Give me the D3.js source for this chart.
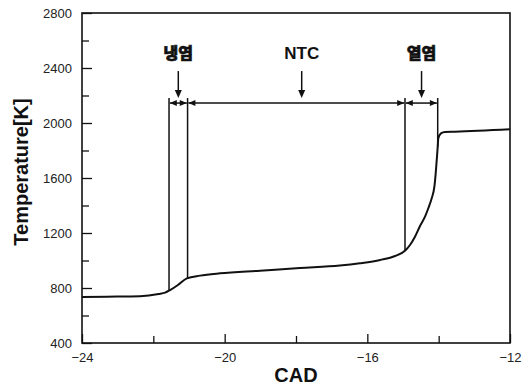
<!DOCTYPE html>
<html>
<head>
<meta charset="utf-8">
<script src="https://cdn.jsdelivr.net/npm/d3@7"></script>
<style>
  html, body { margin: 0; padding: 0; background: #fff; }
  svg { display: block; font-family: "Liberation Sans", Arial, "Noto Sans CJK KR", sans-serif; }
</style>
</head>
<body>
<svg id="chart" width="529" height="385"></svg>
<script>
// Crank-angle (CAD) vs. in-cylinder temperature
const cad  = [-24, -23.3, -22.37, -21.85, -21.67, -21.53, -21.31, -21.06, -20.69, -20.13, -19.01, -17.89, -16.77, -16.21, -15.64, -15.22, -14.944, -14.804, -14.664, -14.523, -14.383, -14.29, -14.195, -14.12, -14.083, -14.047, -14.027, -14.01, -13.935, -13.823, -13.54, -12];
const temp = [735, 737, 740, 756, 766, 785, 822, 870, 890, 907, 926, 945, 963, 980, 1004, 1033, 1071, 1113, 1173, 1251, 1319, 1380, 1452, 1537, 1634, 1755, 1828, 1889, 1925, 1935, 1937, 1954];

// Axis ticks
const xMajorTicks = [-24, -20, -16, -12];
const xMinorTicks = [-22, -18, -14];
const yMajorTicks = [400, 800, 1200, 1600, 2000, 2400, 2800];
const yMinorTicks = [600, 1000, 1400, 1800, 2200, 2600];

// Combustion stage boundaries and annotations
const boundaryCad  = [-21.56, -21.04, -14.944, -14.027];
const boundaryTemp = [785, 870, 1071, 1828];
const dimLevel     = 2145;
const stageLabels  = ["냉염", "NTC", "열염"];
const stageFrom    = [0, 1, 2];
const stageTo      = [1, 2, 3];
const stageLabelCad = [-21.30, -17.84, -14.48];

const margin = { left: 82, top: 13, right: 19, bottom: 42 };
const W = 529, H = 385;
const svg = d3.select("#chart");
const x = d3.scaleLinear().domain([-24, -12]).range([margin.left, W - margin.right]);
const y = d3.scaleLinear().domain([400, 2800]).range([H - margin.bottom, margin.top]);
const ink = "#111";

// Axes with inward ticks
const gx = svg.append("g").attr("transform", `translate(0,${y(400)})`)
  .call(d3.axisBottom(x).tickValues(xMajorTicks).tickSize(-9).tickPadding(10).tickFormat(d3.format("d")));
svg.append("g").attr("transform", `translate(0,${y(400)})`)
  .call(d3.axisBottom(x).tickValues(xMinorTicks).tickSize(-7).tickFormat(""));
const gy = svg.append("g").attr("transform", `translate(${x(-24)},0)`)
  .call(d3.axisLeft(y).tickValues(yMajorTicks).tickSize(-10).tickPadding(10).tickFormat(d3.format("d")));
svg.append("g").attr("transform", `translate(${x(-24)},0)`)
  .call(d3.axisLeft(y).tickValues(yMinorTicks).tickSize(-7).tickFormat(""));

svg.selectAll(".domain").remove();
svg.selectAll(".tick line").attr("stroke", ink).attr("stroke-width", 1.3);
svg.selectAll(".tick text").attr("fill", "#222").style("font-size", "13px");
gx.selectAll(".tick text").attr("dy", "0.71em");

// Frame
svg.append("rect")
  .attr("x", x(-24)).attr("y", y(2800))
  .attr("width", x(-12) - x(-24)).attr("height", y(400) - y(2800))
  .attr("fill", "none").attr("stroke", ink).attr("stroke-width", 1.6);

// Axis titles
svg.append("text")
  .attr("x", (x(-24) + x(-12)) / 2).attr("y", 382)
  .attr("text-anchor", "middle").attr("font-weight", "bold").style("font-size", "20px")
  .attr("fill", ink).text("CAD");
svg.append("text")
  .attr("transform", `translate(28,${172}) rotate(-90)`)
  .attr("text-anchor", "middle").attr("font-weight", "bold").style("font-size", "20px")
  .attr("fill", ink).text("Temperature[K]");

// Temperature curve
const pts = cad.map((c, i) => [c, temp[i]]);
svg.append("path")
  .datum(pts)
  .attr("fill", "none").attr("stroke", ink).attr("stroke-width", 2)
  .attr("stroke-linejoin", "round")
  .attr("d", d3.line().x(d => x(d[0])).y(d => y(d[1])).curve(d3.curveMonotoneX));

// Stage boundary lines
const dimY = y(dimLevel);
svg.selectAll(".bound")
  .data(boundaryCad)
  .join("line")
  .attr("x1", d => x(d)).attr("x2", d => x(d))
  .attr("y1", dimY - 5)
  .attr("y2", (d, i) => y(boundaryTemp[i]))
  .attr("stroke", ink).attr("stroke-width", 1.5);

// Dimension lines with outward arrowheads
const ah = 7, aw = 3;
stageLabels.forEach((lab, i) => {
  const x0 = x(boundaryCad[stageFrom[i]]) + 0.8;
  const x1 = x(boundaryCad[stageTo[i]]) - 0.8;
  svg.append("line")
    .attr("x1", x0).attr("x2", x1).attr("y1", dimY).attr("y2", dimY)
    .attr("stroke", ink).attr("stroke-width", 1.5);
  svg.append("path")
    .attr("d", `M${x0},${dimY}L${x0 + ah},${dimY - aw}L${x0 + ah},${dimY + aw}Z`)
    .attr("fill", ink);
  svg.append("path")
    .attr("d", `M${x1},${dimY}L${x1 - ah},${dimY - aw}L${x1 - ah},${dimY + aw}Z`)
    .attr("fill", ink);

  // Pointer arrow and stage name
  const lx = x(stageLabelCad[i]);
  svg.append("line")
    .attr("x1", lx).attr("x2", lx).attr("y1", dimY - 32).attr("y2", dimY - 12)
    .attr("stroke", ink).attr("stroke-width", 1.5);
  svg.append("path")
    .attr("d", `M${lx},${dimY - 5}L${lx - 3.5},${dimY - 13}L${lx + 3.5},${dimY - 13}Z`)
    .attr("fill", ink);
  const t = svg.append("text")
    .attr("x", lx).attr("y", dimY - 44)
    .attr("text-anchor", "middle").attr("font-weight", "900")
    .style("font-size", i === 1 ? "17px" : "16px")
    .attr("fill", ink).text(lab);
  if (i !== 1) t.attr("stroke", ink).attr("stroke-width", 0.6);
});
</script>
</body>
</html>
